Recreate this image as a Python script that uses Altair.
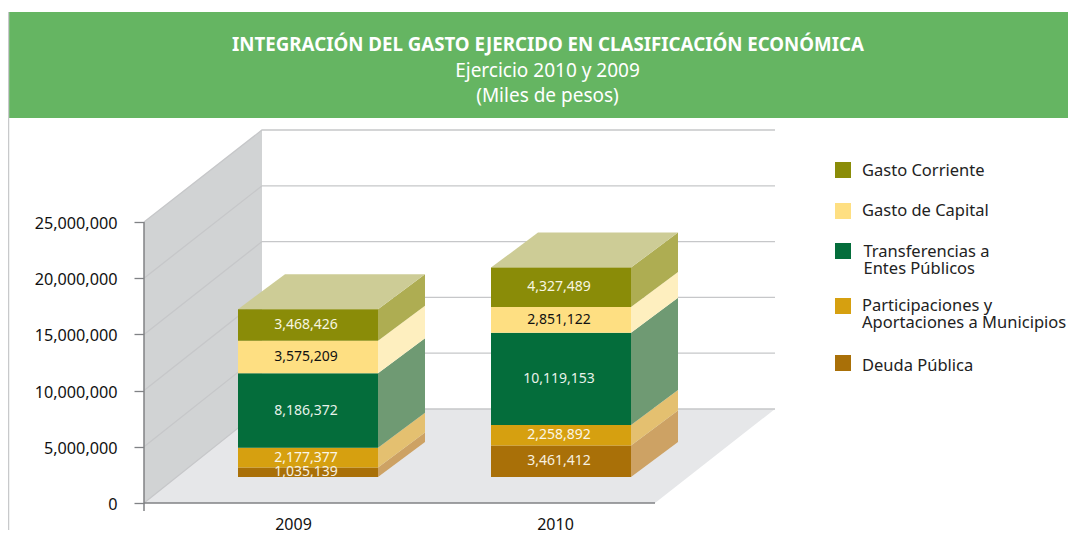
import altair as alt
import pandas as pd

YEARS = ["2009", "2010"]
SERIES = ["Deuda Pública", "Participaciones y Aportaciones a Municipios",
          "Transferencias a Entes Públicos", "Gasto de Capital", "Gasto Corriente"]
V2009 = [1035139, 2177377, 8186372, 3575209, 3468426]
V2010 = [3461412, 2258892, 10119153, 2851122, 4327489]
FRONT = ["#a97008", "#d6a010", "#046d3b", "#fedf82", "#8a8c08"]
SIDE = ["#cda264", "#e4c070", "#6f9a73", "#feefbf", "#aead52"]
TEXTC = ["#f7f1e0", "#fbf6e6", "#e8f2ea", "#111111", "#f7f6e0"]
TICKS = [0, 5000000, 10000000, 15000000, 20000000, 25000000]
TITLE = "INTEGRACIÓN DEL GASTO EJERCIDO EN CLASIFICACIÓN ECONÓMICA"
SUBTITLES = ["Ejercicio 2010 y 2009", "(Miles de pesos)"]

LEGEND = [(["Gasto Corriente"], 4), (["Gasto de Capital"], 3),
          (["Transferencias a", "Entes Públicos"], 2),
          (["Participaciones y", "Aportaciones a Municipios"], 1),
          (["Deuda Pública"], 0)]
LEGEND_Y = [40, 81, 121, 176, 233]
LEGEND_TY = [41, 81, 122, 176, 236]
LEGEND_TX = [718, 718, 719.5, 718, 718]

FONT = "Noto Sans"
W, H = 632, 373
PX = 25000000 / 281          # value units per pixel of the front axis
DX, DY = 118, 94             # depth of the wall
BACK = 279 / 281             # the back wall is drawn slightly smaller
BAR_X = [94, 347]
BAR_W = 140
BAR_DX, BAR_DY = 47, 35
BASE = 26
SHRINK = 9.1 * PX / 1e6      # bars sit deeper in the box than the axis plane


def up(px):
    return px * PX


xs = alt.Scale(domain=[0, W], nice=False, zero=False)
ys = alt.Scale(domain=[0, up(H)], nice=False, zero=False)
x_axis = alt.Axis(
    values=[149, 411], labelExpr=f"datum.value < 300 ? '{YEARS[0]}' : '{YEARS[1]}'",
    title=None, domain=False, grid=False, ticks=False, labelPadding=13, labelFont=FONT,
    labelFontSize=16, labelColor="#111111")
y_axis = alt.Axis(
    values=TICKS, labelExpr="format(datum.value, ',d')", title=None, domain=False, grid=False,
    tickSize=10, tickColor="#808285", tickWidth=1.3, labelPadding=17, labelFont=FONT,
    labelFontSize=16.2, labelColor="#111111", labelOffset=1.5)
X = lambda f="x": alt.X(f"{f}:Q", scale=xs, axis=x_axis)
Y = lambda f="y": alt.Y(f"{f}:Q", scale=ys, axis=y_axis)

faces, sides, tops, labels = [], [], [], []
for yi, vals in enumerate([V2009, V2010]):
    x0 = BAR_X[yi]
    y = up(BASE)
    for si, v in enumerate(vals):
        y1 = y + v * SHRINK
        faces.append(dict(x=x0, x2=x0 + BAR_W, y=y, y2=y1, fill=FRONT[si]))
        for a, b in ((0, 0), (BAR_DX, BAR_DY)):
            sides.append(dict(id=f"{yi}-{si}", x=x0 + BAR_W + a, y=y + up(b), y2=y1 + up(b), fill=SIDE[si]))
        labels.append(dict(x=x0 + BAR_W / 2 - 2, y=(y + y1) / 2, t=f"{v:,}", c=TEXTC[si]))
        y = y1
    for a, b in ((0, 0), (BAR_DX, BAR_DY)):
        tops.append(dict(id=yi, x=x0 + a, x2=x0 + BAR_W + a, y=y + up(b)))

wall = pd.DataFrame([dict(x=0, y=up(281), y2=0), dict(x=DX, y=up(H), y2=up(DY))])
floor = pd.DataFrame([dict(x=0, x2=511, y=0), dict(x=DX, x2=631, y=up(DY))])
grid = pd.DataFrame([r for t in TICKS for r in (
    dict(t=t, x=0, y=t), dict(t=t, x=DX, y=t * BACK + up(DY)), dict(t=t, x=631, y=t * BACK + up(DY)))])
one = pd.DataFrame({"a": [0]})

layers = [
    alt.Chart(one).mark_rect(color="#65b562").encode(
        x=alt.value(-136), x2=alt.value(924), y=alt.value(-118), y2=alt.value(-12)),
    alt.Chart(one).mark_rule(color="#c8c9cb", strokeWidth=1.5).encode(
        x=alt.value(-135.5), y=alt.value(-118), y2=alt.value(400)),
    alt.Chart(floor).mark_area(orient="horizontal", color="#e6e7e9").encode(
        y=Y(), x=X(), x2="x2:Q"),
    alt.Chart(wall).mark_area(color="#d1d3d4").encode(x=X(), y=Y(), y2="y2:Q"),
    alt.Chart(grid).mark_line(color="#c6c7c9", strokeWidth=1.3).encode(
        x=X(), y=Y(), detail="t:N", order="x:Q"),
    alt.Chart(pd.DataFrame(sides)).mark_area().encode(
        x=X(), y=Y(), y2="y2:Q", detail="id:N", color=alt.Color("fill:N", scale=None)),
    alt.Chart(pd.DataFrame(tops)).mark_area(orient="horizontal", color="#cdcc96").encode(
        y=Y(), x=X(), x2="x2:Q", detail="id:N"),
    alt.Chart(pd.DataFrame(faces)).mark_rect().encode(
        x=X(), x2="x2:Q", y=Y(), y2="y2:Q", color=alt.Color("fill:N", scale=None)),
    alt.Chart(pd.DataFrame(labels)).mark_text(font=FONT, fontSize=14).encode(
        x=X(), y=Y(), text="t:N", color=alt.Color("c:N", scale=None)),
    alt.Chart(one).mark_rule(color="#808285", strokeWidth=1.5).encode(
        x=alt.value(0), y=alt.value(H - 281), y2=alt.value(H + 8)),
    alt.Chart(one).mark_rule(color="#808285", strokeWidth=1.5).encode(
        x=alt.value(0), x2=alt.value(511), y=alt.value(H)),
    alt.Chart(one).mark_text(text=TITLE, font=FONT, fontSize=18.7, fontWeight="bold",
                             color="#ffffff", baseline="middle").encode(
        x=alt.value(404), y=alt.value(-85.5)),
    alt.Chart(one).mark_text(text=SUBTITLES[0], font=FONT, fontSize=19,
                             color="#ffffff", baseline="middle").encode(
        x=alt.value(403.5), y=alt.value(-59)),
    alt.Chart(one).mark_text(text=SUBTITLES[1], font=FONT, fontSize=19,
                             color="#ffffff", baseline="middle").encode(
        x=alt.value(403.5), y=alt.value(-34)),
]

for i, (lines, s) in enumerate(LEGEND):
    layers.append(alt.Chart(one).mark_square(size=256, color=FRONT[s], opacity=1).encode(
        x=alt.value(699), y=alt.value(LEGEND_Y[i])))
    layers.append(alt.Chart(one).mark_text(
        text=lines if len(lines) > 1 else lines[0], font=FONT, fontSize=16.5, align="left",
        baseline="middle", lineHeight=17, color="#222222").encode(
        x=alt.value(LEGEND_TX[i]), y=alt.value(LEGEND_TY[i])))

chart = alt.layer(*layers).properties(
    width=W, height=H,
    autosize="none",
    padding={"left": 136, "top": 122, "right": 292, "bottom": 33},
).configure_view(stroke=None)

chart.save("out.html", embed_options={"renderer": "svg", "actions": False})
